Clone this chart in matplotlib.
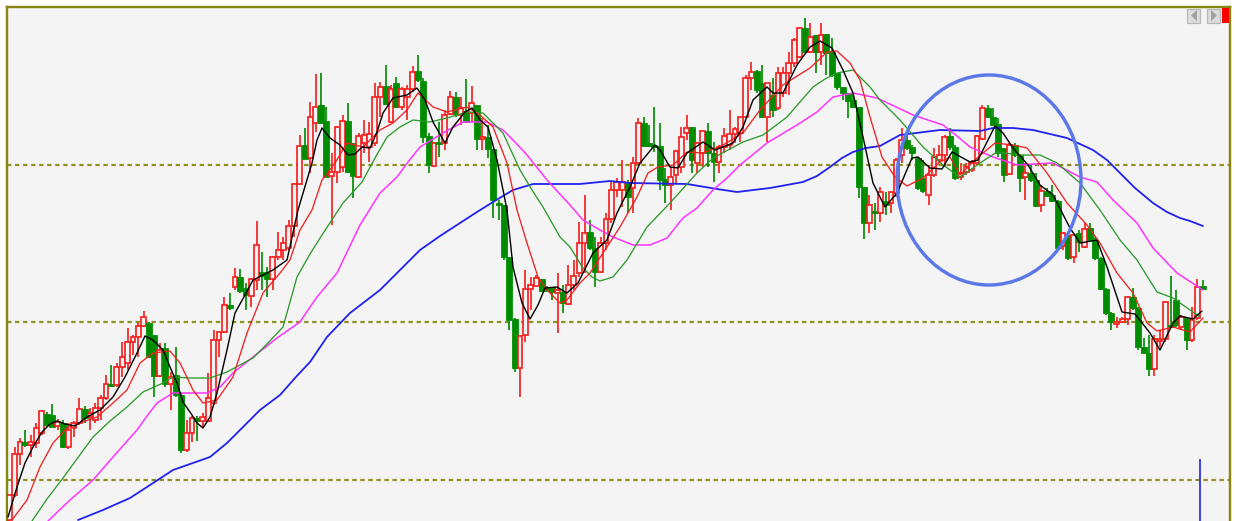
import matplotlib
matplotlib.use("Agg")
import matplotlib.pyplot as plt
from matplotlib.patches import Ellipse, Polygon, Rectangle
import numpy as np

# candles: r = up (hollow red), g = down (solid green); prices on the screen scale
kinds = ("rrrgrrrggr" "grrrgrrrrg" "rrrrrrggrg" "rggrrgrrrr" "rgrggrrggr"
         "rrrrrgrrgg" "rrrggrrrrr" "grgrrrgggr" "grrgrgrgrg" "gggggrrrrg"
         "ggrgrrrrgg" "rrrrrgrrgg" "gggrrrrgrr" "ggrrrrrrrg" "grgrrrrrgr"
         "grgggggggg" "rgrgrrrggg" "grrrrggrrr" "rrggggrggr" "ggrgggrgrg"
         "rgggggrrrg" "gggrrrggrg" "rrg")

body_top = [495,454,442,442,442,428,411,414,415,422,
            423,430,423,409,409,413,408,398,384,384,
            367,357,342,337,326,317,323,335,350,348,
            377,375,395,433,418,418,417,398,340,332,
            305,305,277,277,288,279,245,272,273,257,
            250,243,226,184,146,145,117,107,105,121,
            172,127,121,121,143,136,135,134,97,87,
            86,89,83,89,89,72,71,81,136,143,
            142,115,97,97,108,111,103,105,137,137,
            149,203,205,257,319,336,289,285,278,279,
            287,287,290,292,285,276,243,233,232,248,
            243,219,190,182,182,182,163,123,123,143,
            145,146,179,177,151,137,128,127,143,131,
            131,153,147,136,134,129,117,78,72,71,
            83,83,95,73,73,63,40,28,28,37,
            35,35,34,52,73,87,93,100,107,187,
            205,211,192,201,192,160,140,140,147,158,
            178,175,157,155,137,136,147,173,167,163,
            136,108,108,117,124,148,145,145,155,173,
            173,180,191,191,195,201,233,235,235,233,
            229,228,240,258,289,313,322,319,297,297,
            308,347,353,339,339,302,325,300,317,318,
            320,287,286]

body_bot = [520,495,454,445,445,443,433,425,427,426,
            447,447,428,423,418,417,420,408,398,386,
            385,367,363,342,337,326,357,376,376,384,
            384,395,450,450,433,421,421,421,403,340,
            332,308,287,291,295,296,280,276,279,279,
            257,250,248,226,184,159,158,123,123,177,
            176,172,167,172,176,177,143,147,143,97,
            104,122,107,107,97,89,80,137,165,166,
            144,143,114,114,115,122,113,139,139,149,
            200,205,257,320,368,368,335,289,286,291,
            290,292,293,303,304,285,273,243,248,272,
            272,243,219,190,190,197,188,163,146,146,
            147,180,185,185,175,167,133,160,163,153,
            153,162,162,147,145,134,133,117,78,90,
            117,117,110,108,93,73,63,57,52,52,
            52,52,53,75,87,93,101,107,187,223,
            223,213,213,205,203,193,155,148,153,188,
            191,195,175,160,155,147,178,177,172,170,
            163,139,117,125,153,175,174,155,178,177,
            180,206,205,196,201,248,246,258,257,242,
            247,240,258,289,313,322,324,322,319,308,
            347,353,369,369,341,339,327,325,327,340,
            340,318,289]

wick_top = [495,447,438,430,435,423,410,412,404,419,
            420,423,421,398,406,408,403,395,375,365,
            363,342,328,335,323,311,322,335,343,343,
            372,347,392,420,416,416,413,373,330,332,
            297,293,268,269,283,278,221,252,267,256,
            232,237,220,183,135,128,102,74,73,107,
            153,126,115,103,143,133,120,122,83,82,
            65,85,77,87,85,66,55,78,133,142,
            122,110,91,92,97,79,86,105,118,125,
            149,200,205,257,318,335,270,277,275,279,
            286,287,273,285,265,260,222,195,220,237,
            237,213,182,178,160,180,157,118,117,125,
            107,123,168,167,150,127,115,127,142,130,
            123,142,145,128,110,127,117,75,62,70,
            65,83,78,67,67,52,38,28,18,23,
            35,23,34,38,73,87,93,93,107,187,
            195,203,187,192,192,158,128,132,145,157,
            160,165,148,145,135,128,145,163,163,160,
            135,105,105,108,118,148,143,143,155,163,
            165,173,185,188,185,200,232,233,233,230,
            223,223,237,257,288,312,317,317,296,288,
            307,338,335,335,330,301,276,290,315,317,
            307,279,280]

wick_bot = [521,497,465,447,457,448,435,427,427,430,
            448,449,437,425,423,430,423,420,400,387,
            387,377,370,355,357,327,358,397,377,387,
            410,397,453,452,442,441,428,422,405,357,
            333,310,290,293,310,307,290,290,297,290,
            260,260,250,237,185,159,173,132,123,177,
            225,183,172,173,198,178,153,162,146,117,
            105,123,108,110,120,92,82,143,173,167,
            157,150,115,117,125,123,122,150,150,158,
            218,220,260,330,372,397,342,310,287,292,
            292,300,333,313,305,290,277,273,250,287,
            273,250,223,197,207,213,213,165,147,147,
            152,190,203,210,183,173,140,173,173,167,
            167,182,173,153,150,143,142,117,90,93,
            118,142,117,110,97,95,67,58,53,53,
            73,65,75,77,90,100,118,108,198,239,
            233,230,222,215,213,197,163,150,160,190,
            193,205,177,163,167,150,180,180,175,172,
            165,140,118,125,157,182,175,157,192,200,
            182,207,212,197,202,250,250,260,263,252,
            248,242,260,290,315,330,328,323,325,310,
            350,353,376,376,347,342,327,327,330,350,
            342,320,290]

# moving averages
black_x = [8,17,25,33,42,50,57,65,75,87,100,113,125,137,145,153,163,170,177,183,192,197,203,210,217,227,235,245,253,267,273,287,
           298,312,317,322,330,340,348,355,362,370,377,383,393,407,417,425,433,445,453,465,472,480,488,497,507,513,522,530,538,545,557,567,578,
           593,607,617,630,640,655,660,670,678,687,703,715,733,743,753,767,773,783,797,810,820,832,843,853,863,873,885,
           897,912,918,930,942,952,970,978,995,1003,1013,1028,1040,1053,1070,1080,1097,1107,1122,1135,1150,1160,1173,1180,1193,1202]
black_y = [517,487,463,447,432,424,421,424,426,417,410,397,377,353,336,340,350,367,383,402,415,423,428,417,393,350,313,295,280,273,270,260,
           210,163,140,128,138,145,155,154,147,148,132,113,98,95,88,100,122,143,127,112,108,120,127,160,210,267,303,319,305,288,287,293,283,
           253,240,213,187,163,145,150,167,168,153,142,150,143,127,100,87,93,93,65,47,41,48,70,93,137,183,207,
           193,158,157,168,169,152,162,160,126,133,148,165,185,195,228,243,240,267,312,314,333,350,323,316,319,311]

red_x = [12,27,40,53,67,80,97,113,127,140,153,170,180,193,203,217,233,247,263,280,290,
         300,312,322,335,347,363,380,393,407,418,433,447,467,480,493,507,517,527,538,547,560,567,580,
         590,603,620,637,648,658,673,687,703,723,743,760,783,810,827,837,850,860,870,882,895,
         907,923,940,950,960,977,995,1013,1027,1047,1067,1087,1100,1117,1133,1147,1157,1173,1190,1203]
red_y = [520,500,467,443,428,423,417,403,390,363,353,351,363,390,403,400,377,333,293,273,260,
         230,210,180,163,143,147,130,123,110,93,107,112,107,115,127,163,210,243,277,290,303,300,283,
         273,253,227,197,173,167,165,152,153,145,133,110,85,68,52,51,63,80,117,157,177,
         186,178,162,157,175,158,143,145,148,173,203,225,243,273,293,323,331,327,332,318]

green_x = [32,47,63,93,110,127,143,163,173,190,210,227,240,253,268,283,297,310,322,343,362,375,387,400,413,430,447,467,483,503,520,532,543,560,570,
           583,592,600,613,627,647,670,697,713,743,763,787,813,825,837,853,870,880,900,
           923,943,960,980,997,1020,1040,1057,1080,1100,1120,1137,1147,1157,1173,1200]
green_y = [521,499,478,437,421,407,392,383,377,378,378,372,365,358,343,327,277,254,235,203,182,158,137,127,120,122,118,112,113,133,170,190,207,237,247,
           268,277,281,277,260,227,203,173,158,142,135,117,87,79,73,70,87,100,120,
           147,165,177,163,152,155,155,163,183,210,240,260,276,292,298,317]

magenta_x = [48,70,93,113,137,147,157,173,207,220,233,253,277,300,308,317,337,348,360,380,397,408,420,443,463,487,503,515,527,547,570,583,
             600,613,633,650,667,683,697,713,727,740,767,797,817,833,853,877,
             913,943,957,970,993,1017,1053,1080,1097,1113,1137,1153,1177,1203]
magenta_y = [521,500,480,457,430,416,403,393,393,387,373,357,338,322,310,297,273,250,225,193,177,162,147,133,122,122,130,142,155,180,205,220,
             230,237,245,245,238,218,208,190,178,165,143,125,112,97,93,98,
             115,125,136,147,157,165,163,177,182,200,223,248,273,290]

blue_x = [78,103,130,147,173,210,227,243,260,280,295,310,327,350,380,400,420,440,460,477,493,513,533,580,610,630,687,717,737,770,803,817,830,842,853,866,880,
          900,940,980,993,1013,1033,1050,1067,1080,1093,1107,1120,1135,1153,1167,1180,1190,1203]
blue_y = [520,510,498,487,470,457,443,427,410,395,378,362,337,313,290,270,250,236,223,212,202,190,184,184,181,183,184,189,192,188,182,176,167,158,152,148,146,
          135,130,131,128,128,130,134,138,144,150,160,173,188,203,212,218,221,226]

levels = [165, 322, 480]
marker_x = 1199.7
marker_top = 459

# candle grid
bar_x = 9.3 + 5.376 * np.arange(len(kinds))

BG = "#f4f4f4"
OLIVE = "#868610"
RED = "#f42020"
GREEN = "#008c00"
px = 0.72  # 1 pixel in points at dpi 100

fig = plt.figure(figsize=(12.35, 5.21), dpi=100, facecolor="white")
ax = fig.add_axes([7 / 1235, 0, (1230 - 7) / 1235, (521 - 7) / 521])
ax.set_xlim(7, 1230)
ax.set_ylim(521, 7)
ax.set_facecolor(BG)
ax.set_xticks([])
ax.set_yticks([])
ax.spines["bottom"].set_visible(False)
for s in ["left", "top", "right"]:
    ax.spines[s].set_color(OLIVE)
    ax.spines[s].set_linewidth(2.4 * px)

# niveaux
for lv in levels:
    ax.plot([7, 1230], [lv, lv], color="#8f8f20", lw=2.2 * px, dashes=(2.0, 1.65), zorder=1)

# candles
for i, k in enumerate(kinds):
    col = RED if k == "r" else GREEN
    ax.vlines(bar_x[i], wick_top[i], wick_bot[i], color=col, lw=1.7 * px, zorder=2)
    h = body_bot[i] - body_top[i]
    if k == "r":
        ax.bar(bar_x[i], h, bottom=body_top[i], width=4.8, facecolor=BG,
               edgecolor=RED, linewidth=1.7 * px, zorder=3)
    else:
        ax.bar(bar_x[i], h, bottom=body_top[i], width=6.0, facecolor=GREEN,
               edgecolor=GREEN, linewidth=0.8 * px, zorder=3)

# moving averages
line_opts = dict(solid_joinstyle="round", solid_capstyle="round")
ax.plot(blue_x, blue_y, color="#2020f0", lw=1.8 * px, zorder=4, **line_opts)
ax.plot(magenta_x, magenta_y, color="#ff30ff", lw=1.5 * px, zorder=4, **line_opts)
ax.plot(green_x, green_y, color="#2a9a2a", lw=1.3 * px, zorder=4, **line_opts)
ax.plot(red_x, red_y, color="#f02020", lw=1.3 * px, zorder=5, **line_opts)
ax.plot(black_x, black_y, color="black", lw=1.4 * px, zorder=6, **line_opts)

# hand drawn circle
ax.add_patch(Ellipse((989, 180), 184, 210, fill=False, edgecolor="#5a78e8", lw=3.4 * px, zorder=7))

# volume marker
ax.vlines(marker_x, marker_top, 521, color="#3030f0", lw=1.8 * px, zorder=4)

# scroll buttons
for x0, tri in [(1187, [(1197, 10), (1197, 21), (1191, 15.5)]),
                (1207, [(1211, 10), (1211, 21), (1217, 15.5)])]:
    ax.add_patch(Rectangle((x0, 8.5), 13, 14, facecolor="#dcdcdc", edgecolor="#b8b8b8", lw=1.2 * px, zorder=8))
    ax.add_patch(Polygon(tri, closed=True, facecolor="#a0a0a0", edgecolor="none", zorder=9))
ax.add_patch(Rectangle((1222, 7.5), 7, 15, facecolor="#ff0000", edgecolor="none", zorder=8))

fig.savefig("out.png", dpi=100, facecolor="white")
